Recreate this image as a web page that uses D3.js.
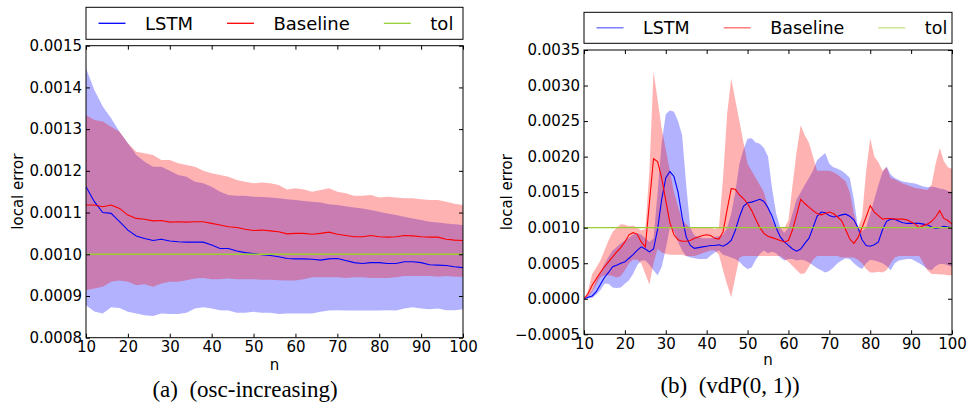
<!DOCTYPE html>
<html>
<head>
<meta charset="utf-8">
<script src="https://cdn.jsdelivr.net/npm/d3@7"></script>
<style>
  body { margin: 0; background: #fff; }
  svg text { font-family: "DejaVu Sans", sans-serif; fill: #000; }
  svg text.caption { font-family: "Liberation Serif", "DejaVu Serif", serif; }
</style>
</head>
<body>
<div id="chart"></div>
<script>
//
// Local error of the LSTM step size controller vs. the baseline,
// two panels: (a) osc-increasing and (b) vdP(0,1)
//

////////////////////////////////////////////////////////////////////////
// Data

// shared across both panels
let seriesNames = ["LSTM", "Baseline", "tol"];
let tol = 0.001;

// ---- panel (a): osc-increasing, sampled every 2 steps
let nA = [10, 12, 14, 16, 18, 20, 22, 24, 26, 28,
  30, 32, 34, 36, 38, 40, 42, 44, 46, 48,
  50, 52, 54, 56, 58, 60, 62, 64, 66, 68,
  70, 72, 74, 76, 78, 80, 82, 84, 86, 88,
  90, 92, 94, 96, 98, 100];

let lstmMeanA = [0.001162, 0.001126, 0.0011, 0.001098, 0.001078, 0.001058, 0.001044, 0.001038, 0.001033, 0.001036,
  0.001032, 0.00103, 0.001029, 0.001029, 0.001029, 0.001022, 0.001014, 0.001014, 0.001008, 0.001004,
  0.001002, 0.000999, 0.000997, 0.000994, 0.00099, 0.000989, 0.000989, 0.000988, 0.000986, 0.000989,
  0.00099, 0.000985, 0.00098, 0.000978, 0.00098, 0.00098, 0.000978, 0.000978, 0.000982, 0.000982,
  0.00098, 0.000975, 0.000974, 0.000973, 0.00097, 0.000968];
let lstmLoA = [0.000878, 0.000863, 0.000858, 0.000873, 0.000871, 0.000862, 0.000858, 0.000854, 0.000852, 0.000858,
  0.000857, 0.000857, 0.00086, 0.00087, 0.000873, 0.00087, 0.000866, 0.000865, 0.00086, 0.00086,
  0.000862, 0.00086, 0.00086, 0.000857, 0.000858, 0.000858, 0.000858, 0.000858, 0.000862, 0.000865,
  0.000866, 0.000865, 0.000865, 0.000865, 0.000865, 0.000865, 0.000866, 0.000865, 0.00087, 0.000873,
  0.00087, 0.000868, 0.00087, 0.000866, 0.000866, 0.000868];
let lstmHiA = [0.001446, 0.001394, 0.001354, 0.001326, 0.001294, 0.001266, 0.001238, 0.001222, 0.00121, 0.00121,
  0.0012, 0.00119, 0.001186, 0.001174, 0.00117, 0.001162, 0.00115, 0.001142, 0.00114, 0.00114,
  0.001138, 0.001137, 0.001136, 0.001134, 0.001132, 0.00113, 0.001128, 0.001126, 0.001124, 0.00112,
  0.001118, 0.001115, 0.001112, 0.00111, 0.001106, 0.001102, 0.001098, 0.001094, 0.00109, 0.001086,
  0.001082, 0.001078, 0.001076, 0.001074, 0.001072, 0.00107];

let baseMeanA = [0.001118, 0.001118, 0.001114, 0.001118, 0.00111, 0.001094, 0.001086, 0.001084, 0.00108, 0.001081,
  0.001077, 0.001078, 0.001077, 0.001078, 0.001078, 0.001074, 0.00107, 0.001066, 0.001064, 0.00106,
  0.001057, 0.001058, 0.001056, 0.001054, 0.001049, 0.00105, 0.00105, 0.001048, 0.00105, 0.001053,
  0.001048, 0.001045, 0.001042, 0.001042, 0.001045, 0.001042, 0.001041, 0.001042, 0.001045, 0.001044,
  0.001042, 0.001041, 0.001041, 0.001036, 0.001034, 0.001033];
let baseLoA = [0.000914, 0.000918, 0.000922, 0.000934, 0.000937, 0.000934, 0.000926, 0.000928, 0.000922, 0.00093,
  0.000934, 0.000934, 0.000938, 0.000942, 0.000943, 0.00094, 0.00094, 0.000942, 0.00094, 0.00094,
  0.00094, 0.000939, 0.000939, 0.000938, 0.000937, 0.000937, 0.00094, 0.000945, 0.000945, 0.000945,
  0.000945, 0.000943, 0.000945, 0.000945, 0.000943, 0.000943, 0.000943, 0.000945, 0.000948, 0.000948,
  0.000948, 0.000948, 0.000946, 0.000948, 0.000946, 0.000946];
let baseHiA = [0.001334, 0.001322, 0.001318, 0.001306, 0.001294, 0.001266, 0.001246, 0.001242, 0.001238, 0.001226,
  0.001226, 0.001218, 0.001214, 0.00121, 0.0012, 0.001194, 0.00119, 0.001186, 0.001178, 0.001174,
  0.00117, 0.001172, 0.00117, 0.001166, 0.001155, 0.001158, 0.001155, 0.00115, 0.001154, 0.001158,
  0.00115, 0.001146, 0.00114, 0.00114, 0.001142, 0.001136, 0.001138, 0.001136, 0.001134, 0.001134,
  0.001132, 0.00113, 0.00113, 0.001126, 0.001121, 0.001118];

let yTicksA = [0.0008, 0.0009, 0.0010, 0.0011, 0.0012, 0.0013, 0.0014, 0.0015];

// ---- panel (b): vdP(0,1), every step
let nB = [10, 11, 12, 13, 14, 15, 16, 17, 18, 19,
  20, 21, 22, 23, 24, 25, 26, 27, 28, 29,
  30, 31, 32, 33, 34, 35, 36, 37, 38, 39,
  40, 41, 42, 43, 44, 45, 46, 47, 48, 49,
  50, 51, 52, 53, 54, 55, 56, 57, 58, 59,
  60, 61, 62, 63, 64, 65, 66, 67, 68, 69,
  70, 71, 72, 73, 74, 75, 76, 77, 78, 79,
  80, 81, 82, 83, 84, 85, 86, 87, 88, 89,
  90, 91, 92, 93, 94, 95, 96, 97, 98, 99,
  100];

let lstmMeanB = [0, 0.00002, 0.00004, 0.0001, 0.0002, 0.0003, 0.00037, 0.00045, 0.00047, 0.0005,
  0.00052, 0.00057, 0.00062, 0.00068, 0.00073, 0.0007, 0.00066, 0.0007, 0.00098, 0.0014,
  0.0017, 0.00179, 0.00172, 0.0015, 0.00115, 0.00087, 0.00075, 0.00071, 0.00072, 0.00073,
  0.00074, 0.00075, 0.00075, 0.00076, 0.00074, 0.00077, 0.00082, 0.00096, 0.00115, 0.0013,
  0.00135, 0.00136, 0.00138, 0.0014, 0.00137, 0.00128, 0.00116, 0.001, 0.00087, 0.0008,
  0.00075, 0.0007, 0.00067, 0.0007, 0.00078, 0.00085, 0.001, 0.00116, 0.00122, 0.00121,
  0.00117, 0.00115, 0.00116, 0.00118, 0.00119, 0.00116, 0.00111, 0.001, 0.00083, 0.00075,
  0.00074, 0.00076, 0.0008, 0.00097, 0.00109, 0.00112, 0.00112, 0.00109, 0.00107, 0.00106,
  0.00106, 0.00106, 0.00106, 0.00105, 0.00104, 0.00101, 0.00099, 0.001, 0.00102, 0.00101,
  0.001];
let lstmLoB = [0, 0.000005, 0.00001, 0.00006, 0.00012, 0.00021, 0.00021, 0.00016, 0.00015, 0.00016,
  0.00021, 0.00026, 0.00035, 0.00047, 0.00054, 0.00054, 0.00048, 0.0004, 0.00033, 0.00045,
  0.0007, 0.001, 0.00095, 0.0008, 0.00068, 0.0006, 0.00058, 0.00057, 0.00056, 0.00056,
  0.00056, 0.00061, 0.00065, 0.00068, 0.00062, 0.0006, 0.00058, 0.00056, 0.00052, 0.00046,
  0.00042, 0.00044, 0.00055, 0.00063, 0.00068, 0.00064, 0.00066, 0.00064, 0.00058, 0.00054,
  0.00056, 0.00056, 0.00054, 0.00055, 0.00054, 0.00051, 0.00047, 0.00043, 0.0004, 0.00037,
  0.00039, 0.00044, 0.0005, 0.00054, 0.00057, 0.00056, 0.0005, 0.00045, 0.00042, 0.0005,
  0.00055, 0.00054, 0.00052, 0.0005, 0.00046, 0.0004, 0.0005, 0.00054, 0.00055, 0.00056,
  0.00056, 0.00053, 0.0005, 0.00046, 0.00042, 0.0004, 0.00046, 0.00049, 0.00049, 0.00047,
  0.00045];
let lstmHiB = [0, 0.00005, 0.00012, 0.00026, 0.00037, 0.00049, 0.00059, 0.00068, 0.00073, 0.00078,
  0.00082, 0.00086, 0.0009, 0.00092, 0.0009, 0.00085, 0.0008, 0.00085, 0.0015, 0.0022,
  0.0026, 0.00265, 0.00263, 0.0025, 0.0023, 0.0016, 0.001, 0.00089, 0.00087, 0.00085,
  0.00085, 0.00085, 0.00087, 0.00088, 0.0009, 0.001, 0.0012, 0.0015, 0.0019, 0.0021,
  0.00225, 0.00226, 0.0022, 0.00218, 0.00212, 0.002, 0.00155, 0.0012, 0.001, 0.00093,
  0.001, 0.0012, 0.0014, 0.0015, 0.0016, 0.0017, 0.0018, 0.00195, 0.002, 0.00205,
  0.0019, 0.00185, 0.00183, 0.0018, 0.00176, 0.0017, 0.0014, 0.001, 0.00095, 0.001,
  0.0012, 0.0014, 0.0016, 0.00178, 0.00186, 0.00175, 0.0017, 0.00167, 0.00165, 0.00164,
  0.00163, 0.00162, 0.0016, 0.00158, 0.00157, 0.00158, 0.00157, 0.00155, 0.00154, 0.00152,
  0.0015];

let baseMeanB = [0, 0.00007, 0.00019, 0.00028, 0.00037, 0.00045, 0.00052, 0.00059, 0.00066, 0.00072,
  0.0008, 0.0009, 0.00093, 0.00091, 0.0008, 0.00073, 0.00135, 0.00197, 0.00193, 0.0017,
  0.00138, 0.00107, 0.0009, 0.00083, 0.00081, 0.00081, 0.00082, 0.00085, 0.00087, 0.00089,
  0.0009, 0.00089, 0.00085, 0.00084, 0.00094, 0.00125, 0.00155, 0.00154, 0.00146, 0.00141,
  0.00134, 0.00124, 0.00112, 0.001, 0.00092, 0.00088, 0.00086, 0.00084, 0.00082, 0.0008,
  0.00082, 0.00097, 0.00118, 0.0014, 0.00134, 0.00129, 0.00124, 0.0012, 0.00118, 0.0012,
  0.00122, 0.0012, 0.00115, 0.0011, 0.00097, 0.00084, 0.00078, 0.00086, 0.001, 0.00115,
  0.00131, 0.00122, 0.00117, 0.00112, 0.00113, 0.00113, 0.00112, 0.00112, 0.00112, 0.00111,
  0.00108, 0.00105, 0.001, 0.00103, 0.00105, 0.00109, 0.00115, 0.00124, 0.00113, 0.0011,
  0.00105];
let baseLoB = [0, 0.00003, 0.0001, 0.0002, 0.0003, 0.00033, 0.00033, 0.00032, 0.0003, 0.00032,
  0.0004, 0.0005, 0.00055, 0.00055, 0.0005, 0.00035, 0.0002, 0.0005, 0.0007, 0.00065,
  0.00063, 0.00062, 0.00062, 0.00062, 0.00062, 0.0006, 0.0006, 0.0006, 0.00062, 0.00064,
  0.00066, 0.00068, 0.00068, 0.00062, 0.0004, 0.0002, 0.00002, 0.0003, 0.00058, 0.0006,
  0.0006, 0.0006, 0.0006, 0.0006, 0.0006, 0.0006, 0.0006, 0.0006, 0.0006, 0.00056,
  0.00052, 0.00046, 0.0004, 0.00035, 0.00036, 0.00045, 0.00055, 0.0006, 0.0006, 0.0006,
  0.0006, 0.0006, 0.0006, 0.00058, 0.00058, 0.00058, 0.00058, 0.00055, 0.0005, 0.00042,
  0.00037, 0.00037, 0.00038, 0.00037, 0.0004, 0.0005, 0.00058, 0.0006, 0.0006, 0.0006,
  0.0006, 0.0006, 0.0006, 0.0005, 0.0004, 0.00035, 0.00035, 0.00034, 0.00034, 0.00033,
  0.00033];
let baseHiB = [0, 0.00012, 0.00035, 0.00044, 0.00054, 0.00068, 0.00082, 0.00094, 0.001, 0.00105,
  0.00104, 0.00102, 0.00103, 0.001, 0.00096, 0.00098, 0.0018, 0.0032, 0.0028, 0.0024,
  0.0021, 0.0018, 0.0015, 0.0013, 0.0011, 0.00105, 0.001, 0.001, 0.001, 0.001,
  0.001, 0.001, 0.00098, 0.001, 0.0017, 0.0026, 0.0031, 0.0028, 0.0025, 0.0022,
  0.0019, 0.0018, 0.0017, 0.0016, 0.0015, 0.0013, 0.0011, 0.001, 0.001, 0.001,
  0.0011, 0.0016, 0.00207, 0.00244, 0.0023, 0.0022, 0.002, 0.0018, 0.0018, 0.0018,
  0.0018, 0.00178, 0.00175, 0.0017, 0.00165, 0.0015, 0.0012, 0.001, 0.00115, 0.0018,
  0.00226, 0.002, 0.00192, 0.0018, 0.00185, 0.0017, 0.00168, 0.00165, 0.00162, 0.0016,
  0.00158, 0.00156, 0.00155, 0.00154, 0.00153, 0.0016, 0.0019, 0.00212, 0.00194, 0.00185,
  0.00183];

let yTicksB = [-0.0005, 0.0000, 0.0005, 0.0010, 0.0015, 0.0020, 0.0025, 0.0030, 0.0035];

let xTicks = [10, 20, 30, 40, 50, 60, 70, 80, 90, 100];


////////////////////////////////////////////////////////////////////////
// Svg and panel layout

let width = 969;
let height = 406;

let svg = d3.select("#chart")
  .append("svg")
  .attr("width", width).attr("height", height);

let colors = { "LSTM": "blue", "Baseline": "red", "tol": "yellowgreen" };

let panels = [
  {
    id: "a", n: nA, yTicks: yTicksA, yDomain: [0.0008, 0.0015],
    lstm: [lstmMeanA, lstmLoA, lstmHiA], base: [baseMeanA, baseLoA, baseHiA],
    left: 86, right: 463, top: 45.7, bottom: 337.7,
    legendTop: 7.3, legendH: 32, legendAlpha: 1, legendFont: 18,
    ylabelX: 18, nGap: 32,
    caption: "(a)  (osc-increasing)", captionX: 245, captionY: 397
  },
  {
    id: "b", n: nB, yTicks: yTicksB, yDomain: [-0.0005, 0.0035],
    lstm: [lstmMeanB, lstmLoB, lstmHiB], base: [baseMeanB, baseLoB, baseHiB],
    left: 584, right: 952, top: 50, bottom: 334.3,
    legendTop: 12.3, legendH: 31, legendAlpha: 0.6, legendFont: 17.5,
    ylabelX: 507, nGap: 31,
    caption: "(b)  (vdP(0, 1))", captionX: 730, captionY: 393
  }
];

let fmt = d3.format(".4f");


////////////////////////////////////////////////////////////////////////
// Draw one panel

function drawPanel(p) {
  let xScale = d3.scaleLinear().domain([10, 100]).range([p.left, p.right]);
  let yScale = d3.scaleLinear().domain(p.yDomain).range([p.bottom, p.top]);

  // rows for each series: {n, mean, lo, hi}
  function rows(arrs) {
    return p.n.map(function(v, i) {
      return { n: v, mean: arrs[0][i], lo: arrs[1][i], hi: arrs[2][i] };
    });
  }
  let series = [
    { name: "LSTM", rows: rows(p.lstm) },
    { name: "Baseline", rows: rows(p.base) }
  ];

  svg.append("clipPath").attr("id", "clip-" + p.id)
    .append("rect")
    .attr("x", p.left).attr("y", p.top)
    .attr("width", p.right - p.left).attr("height", p.bottom - p.top);

  let plot = svg.append("g").attr("clip-path", "url(#clip-" + p.id + ")");

  let band = d3.area()
    .x(function(d) { return xScale(d.n); })
    .y0(function(d) { return yScale(d.lo); })
    .y1(function(d) { return yScale(d.hi); });

  let line = d3.line()
    .x(function(d) { return xScale(d.n); })
    .y(function(d) { return yScale(d.mean); });

  // bands first (LSTM under Baseline), then the mean lines
  plot.selectAll(".band")
    .data(series)
    .enter()
    .append("path")
    .attr("class", "band")
    .attr("d", function(s) { return band(s.rows); })
    .style("fill", function(s) { return colors[s.name]; })
    .style("fill-opacity", 0.3)
    .style("stroke", "none");

  plot.selectAll(".meanline")
    .data(series)
    .enter()
    .append("path")
    .attr("class", "meanline")
    .attr("d", function(s) { return line(s.rows); })
    .style("fill", "none")
    .style("stroke", function(s) { return colors[s.name]; })
    .style("stroke-width", 1.1);

  // tolerance line
  plot.append("line")
    .attr("x1", xScale(10)).attr("x2", xScale(100))
    .attr("y1", yScale(tol)).attr("y2", yScale(tol))
    .style("stroke", colors["tol"])
    .style("stroke-width", 1.3);

  // axes, ticks point inwards on all four sides
  let axL = d3.axisLeft(yScale).tickValues(p.yTicks).tickFormat(fmt)
    .tickSizeInner(-4).tickSizeOuter(0).tickPadding(4);
  let axR = d3.axisRight(yScale).tickValues(p.yTicks).tickFormat("")
    .tickSizeInner(-4).tickSizeOuter(0);
  let axB = d3.axisBottom(xScale).tickValues(xTicks).tickFormat(d3.format("d"))
    .tickSizeInner(-4).tickSizeOuter(0).tickPadding(4);
  let axT = d3.axisTop(xScale).tickValues(xTicks).tickFormat("")
    .tickSizeInner(-4).tickSizeOuter(0);

  let axes = [
    [axL, "translate(" + p.left + ",0)"],
    [axR, "translate(" + p.right + ",0)"],
    [axB, "translate(0," + p.bottom + ")"],
    [axT, "translate(0," + p.top + ")"]
  ];
  axes.forEach(function(a) {
    let g = svg.append("g").attr("class", "axis")
      .attr("transform", a[1])
      .call(a[0]);
    g.select(".domain").remove();
    g.selectAll("line").style("stroke", "#000");
    g.selectAll("text")
      .attr("font-size", 15)
      .style("font-family", "DejaVu Sans, sans-serif")
      .style("fill", "#000");
  });

  // frame
  svg.append("rect")
    .attr("x", p.left).attr("y", p.top)
    .attr("width", p.right - p.left).attr("height", p.bottom - p.top)
    .style("fill", "none").style("stroke", "#000").style("stroke-width", 1);

  // axis labels
  svg.append("text")
    .attr("transform", "translate(" + p.ylabelX + "," + ((p.top + p.bottom) / 2) + ") rotate(-90)")
    .attr("text-anchor", "middle")
    .attr("dy", "0.35em")
    .attr("font-size", 15)
    .text("local error");

  svg.append("text")
    .attr("x", (p.left + p.right) / 2)
    .attr("y", p.bottom + p.nGap)
    .attr("text-anchor", "middle")
    .attr("font-size", 15)
    .text("n");

  // legend box above the plot, columns laid out like matplotlib:
  // handle, gap, label, column spacing
  let lw = p.right - p.left;
  let legend = svg.append("g")
    .attr("transform", "translate(" + p.left + "," + p.legendTop + ")");
  legend.append("rect")
    .attr("width", lw).attr("height", p.legendH)
    .style("fill", "#fff").style("stroke", "#000").style("stroke-width", 1);

  let cx = 12.5;
  seriesNames.forEach(function(name) {
    let entry = legend.append("g")
      .attr("transform", "translate(" + cx + "," + (p.legendH / 2) + ")");
    entry.append("line")
      .attr("x1", 0).attr("x2", 27)
      .style("stroke", colors[name])
      .style("stroke-opacity", p.legendAlpha)
      .style("stroke-width", 1.3);
    let t = entry.append("text")
      .attr("x", 46.5)
      .attr("dy", "0.36em")
      .attr("font-size", p.legendFont)
      .text(name);
    cx += 46.5 + t.node().getComputedTextLength() + 34;
  });

  // sub-figure caption
  svg.append("text")
    .attr("class", "caption")
    .attr("x", p.captionX)
    .attr("y", p.captionY)
    .attr("text-anchor", "middle")
    .attr("font-size", 23)
    .style("white-space", "pre")
    .text(p.caption);
}

panels.forEach(drawPanel);
</script>
</body>
</html>
